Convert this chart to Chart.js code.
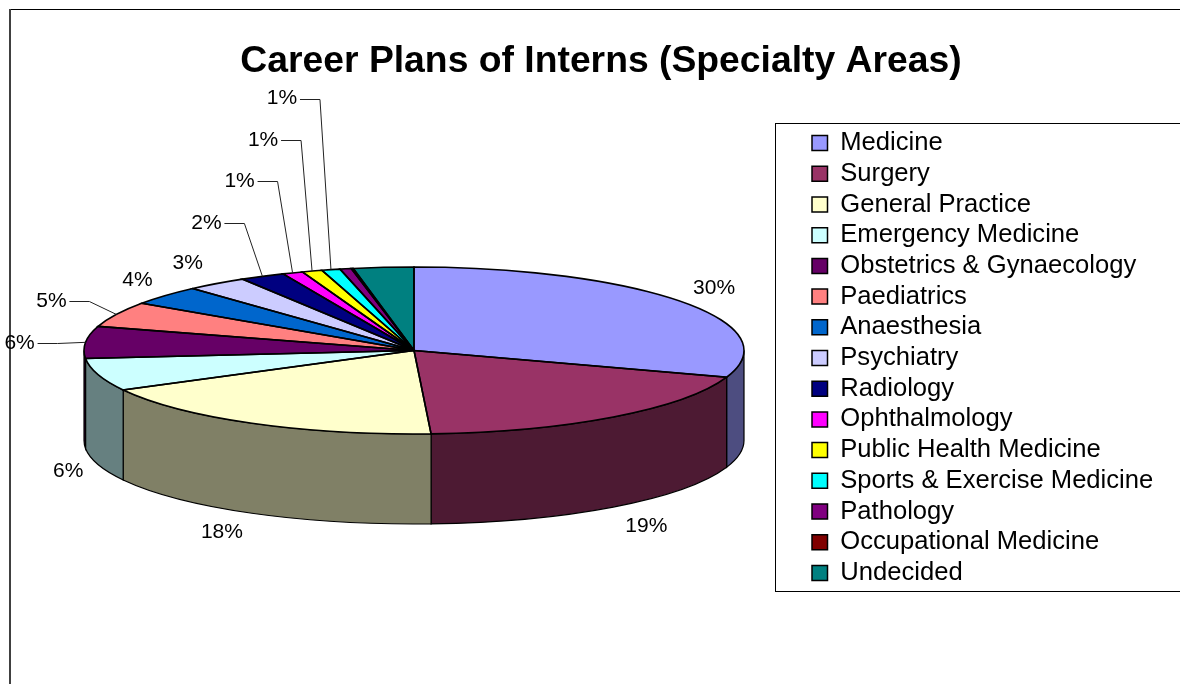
<!DOCTYPE html>
<html>
<head>
<meta charset="utf-8">
<style>
  html, body { margin: 0; padding: 0; background: #fff; overflow: hidden; }
  canvas { display: block; }
</style>
<script src="https://cdn.jsdelivr.net/npm/chart.js@4/dist/chart.umd.min.js"></script>
</head>
<body>
<canvas id="myChart" width="1180" height="684"></canvas>
<script>
const categories = ["Medicine", "Surgery", "General Practice", "Emergency Medicine", "Obstetrics & Gynaecology", "Paediatrics", "Anaesthesia", "Psychiatry", "Radiology", "Ophthalmology", "Public Health Medicine", "Sports & Exercise Medicine", "Pathology", "Occupational Medicine", "Undecided"];
const shares = [30.2, 19.0, 18.0, 6.3, 6.2, 4.9, 3.75, 3.0, 2.2, 1.0, 1.0, 0.9, 0.55, 0.1, 2.95];
const shareLabels = ["30%", "19%", "18%", "6%", "6%", "5%", "4%", "3%", "2%", "1%", "1%", "1%", "", "", ""];
const colors = ["#9999FF", "#993366", "#FFFFCC", "#CCFFFF", "#660066", "#FF8080", "#0066CC", "#CCCCFF", "#000080", "#FF00FF", "#FFFF00", "#00FFFF", "#800080", "#800000", "#008080"];

// where each percent label sits, relative to the middle of its slice's rim
const labelOffsets = [[32, -14], [33, 109], [-30, 109], [-30, 96], [-66, 1], [-65, -13], [-28, -15], [-29, -20], [-56, -53], [-53, -92], [-49, -131], [-49, -171]];
const hasLeader = [false, false, false, false, true, true, false, false, true, true, true, true];

const FONT = '"Liberation Sans", Arial, sans-serif';
const pie = { x: 414, y: 350.5, rx: 330, ry: 83.5, depth: 90 };

function halfColor(hex) {
  const n = parseInt(hex.slice(1), 16);
  const r = Math.round((n >> 16) / 2);
  const g = Math.round(((n >> 8) & 255) / 2);
  const b = Math.round((n & 255) / 2);
  return "rgb(" + r + "," + g + "," + b + ")";
}

// the frame of the chart, cut off by the page on the top right and bottom left
const framePlugin = {
  id: "frame",
  beforeDraw(chart) {
    const ctx = chart.ctx;
    ctx.save();
    ctx.fillStyle = "#000";
    ctx.fillRect(10, 9, 1170, 1);
    ctx.fillStyle = "#404040";
    ctx.fillRect(9, 9, 2, 675);
    ctx.strokeStyle = "#000";
    ctx.lineWidth = 1;
    ctx.strokeRect(775.5, 123.5, 500, 468);
    ctx.restore();
  },
  afterLayout(chart) {
    const lg = chart.legend;
    const pad = lg.options.labels.padding;
    lg.left = 812 - pad;
    lg.right = 1180;
    lg.top = 125.2;
    lg.bottom = 684;
  },
};

// tilted pie: the library's arcs are squashed into an ellipse and get a wall below them
const tiltPlugin = {
  id: "tilt",
  beforeDatasetDraw(chart, args) {
    const ctx = chart.ctx;
    const arcs = args.meta.data;

    arcs.forEach((arc, i) => {
      const s = Math.max(arc.startAngle, 0);
      const e = Math.min(arc.endAngle, Math.PI);
      if (e <= s) return;
      ctx.beginPath();
      ctx.ellipse(pie.x, pie.y, pie.rx, pie.ry, 0, s, e);
      ctx.ellipse(pie.x, pie.y + pie.depth, pie.rx, pie.ry, 0, e, s, true);
      ctx.closePath();
      ctx.fillStyle = halfColor(colors[i]);
      ctx.fill();
      ctx.strokeStyle = "#000";
      ctx.lineWidth = 1.2;
      ctx.stroke();
    });

    arcs.forEach((arc) => {
      ctx.save();
      ctx.translate(pie.x, pie.y);
      ctx.scale(pie.rx / arc.outerRadius, pie.ry / arc.outerRadius);
      ctx.translate(-arc.x, -arc.y);
      arc.draw(ctx);
      ctx.restore();
    });

    arcs.forEach((arc) => {
      ctx.beginPath();
      ctx.moveTo(pie.x, pie.y);
      ctx.ellipse(pie.x, pie.y, pie.rx, pie.ry, 0, arc.startAngle, arc.endAngle);
      ctx.closePath();
      ctx.strokeStyle = "#000";
      ctx.lineWidth = 1.6;
      ctx.stroke();
    });

    ctx.font = "21px " + FONT;
    ctx.fillStyle = "#000";
    ctx.textAlign = "center";
    ctx.textBaseline = "middle";
    ctx.lineWidth = 1;
    ctx.strokeStyle = "#222";
    arcs.forEach((arc, i) => {
      if (!shareLabels[i]) return;
      const mid = (arc.startAngle + arc.endAngle) / 2;
      const ax = pie.x + pie.rx * Math.cos(mid);
      const ay = pie.y + pie.ry * Math.sin(mid);
      const lx = ax + labelOffsets[i][0];
      const ly = ay + labelOffsets[i][1];
      if (hasLeader[i]) {
        ctx.beginPath();
        ctx.moveTo(lx + 18, Math.round(ly) + 0.5);
        ctx.lineTo(lx + 38, Math.round(ly) + 0.5);
        ctx.lineTo(ax, ay);
        ctx.stroke();
      }
      ctx.fillText(shareLabels[i], lx, ly);
    });
    return false;
  },
};

const data = {
  labels: categories,
  datasets: [
    {
      data: shares,
      backgroundColor: colors,
      borderWidth: 0,
    },
  ],
};

const config = {
  type: "pie",
  data: data,
  plugins: [framePlugin, tiltPlugin],
  options: {
    responsive: false,
    animation: false,
    radius: 330,
    layout: { padding: { left: 22 } },
    plugins: {
      title: {
        display: true,
        text: "Career Plans of Interns (Specialty Areas)",
        color: "#000",
        font: { family: FONT, size: 37.3, weight: "bold" },
        padding: { top: 39, bottom: 0 },
      },
      legend: {
        position: "right",
        align: "start",
        labels: {
          color: "#000",
          font: { family: FONT, size: 25.6 },
          boxWidth: 15.5,
          boxHeight: 15,
          padding: 5.1,
          generateLabels(chart) {
            return Chart.overrides.pie.plugins.legend.labels.generateLabels(chart).map((item) => {
              item.strokeStyle = "#000";
              item.lineWidth = 1.5;
              return item;
            });
          },
        },
      },
      tooltip: { enabled: false },
    },
  },
};

const myChart = new Chart(document.getElementById("myChart"), config);
</script>
</body>
</html>
